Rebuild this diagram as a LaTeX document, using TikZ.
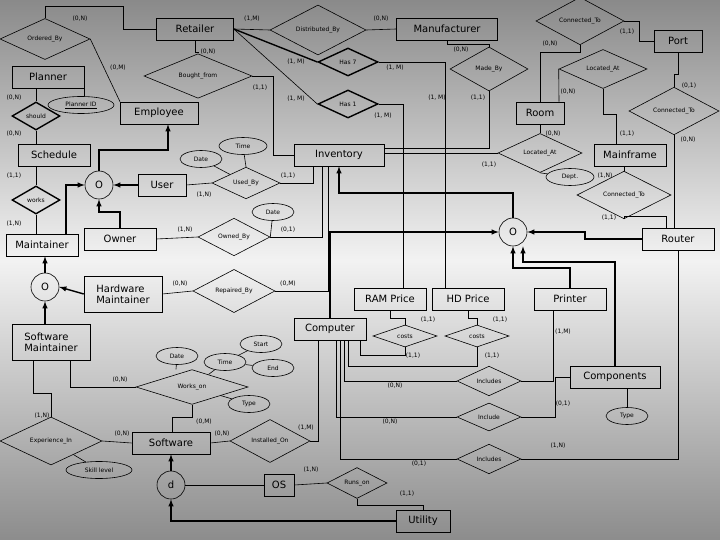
\documentclass[tikz,border=0pt]{standalone}
\usepackage{fontspec}
\setmainfont{DejaVu Sans}
\usetikzlibrary{arrows,shapes.geometric}

\tikzset{
  ent/.style={draw, rectangle, minimum height=22, inner sep=0, font=\fontsize{10}{11}\selectfont},
  rel/.style={draw, diamond, inner sep=0, font=\fontsize{6}{7}\selectfont},
  attr/.style={draw, ellipse, inner sep=0, minimum height=17, font=\fontsize{6}{7}\selectfont},
  gen/.style={draw, circle, minimum size=28, inner sep=0, font=\fontsize{10}{11}\selectfont},
  card/.style={font=\fontsize{6}{7}\selectfont, inner sep=0},
  bold/.style={line width=1.4pt},
  isa/.style={line width=1.4pt, -latex},
}

\begin{document}
\begin{tikzpicture}[x=1pt, y=-1pt, line width=0.6pt]
    \shade[top color=black!46, bottom color=black!5] (0,0) rectangle (720,260);
    \shade[top color=black!5, bottom color=black!45] (0,260) rectangle (720,540);
    \useasboundingbox (0,0) rectangle (720,540);

    % entities
    \node[ent, minimum width=77] (retailer) at (195,29) {Retailer};
    \node[ent, minimum width=101] (manuf) at (447,29) {Manufacturer};
    \node[ent, minimum width=48] (port) at (678,41) {Port};
    \node[ent, minimum width=72] (planner) at (48,77) {Planner};
    \node[ent, minimum width=78] (employee) at (159,113) {Employee};
    \node[ent, minimum width=48] (room) at (540,113) {Room};
    \node[ent, minimum width=72] (schedule) at (54,155) {Schedule};
    \node[ent, minimum width=90] (inventory) at (339,155) {Inventory};
    \node[ent, minimum width=72] (mainframe) at (630,155) {Mainframe};
    \node[ent, minimum width=48] (user) at (162,185) {User};
    \node[ent, minimum width=72] (maintainer) at (42,245) {Maintainer};
    \node[ent, minimum width=72] (owner) at (120,239) {Owner};
    \node[ent, minimum width=72] (router) at (678,239) {Router};
    \node[ent, minimum width=78, minimum height=36, align=left] (hwmaint) at (123,294) {Hardware\\Maintainer};
    \node[ent, minimum width=72] (ramprice) at (390,299) {RAM Price};
    \node[ent, minimum width=72] (hdprice) at (468,299) {HD Price};
    \node[ent, minimum width=72] (printer) at (570,299) {Printer};
    \node[ent, minimum width=72] (computer) at (330,329) {Computer};
    \node[ent, minimum width=78, minimum height=36, align=left] (swmaint) at (51,342) {Software\\Maintainer};
    \node[ent, minimum width=90] (components) at (615,377) {Components};
    \node[ent, minimum width=78] (software) at (171,443) {Software};
    \node[ent, minimum width=30] (os) at (279,485) {OS};
    \node[ent, minimum width=54] (utility) at (423,521) {Utility};

    % specialisation circles
    \node[gen] (oemp) at (99,185) {O};
    \node[gen] (oinv) at (513,232) {O};
    \node[gen] (omaint) at (45,287) {O};
    \node[gen] (dsoft) at (171,485) {d};

    % relationships
    \node[rel, minimum width=90, minimum height=28] (orderedby) at (45,39) {Ordered\_By};
    \node[rel, minimum width=96, minimum height=32] (distrib) at (318,30) {Distributed\_By};
    \node[rel, minimum width=108, minimum height=28] (bought) at (198,76) {Bought\_from};
    \node[rel, bold, minimum width=60, minimum height=28] (hasseven) at (348,62) {Has 7};
    \node[rel, bold, minimum width=60, minimum height=28] (hasone) at (348,104) {Has 1};
    \node[rel, bold, minimum width=48, minimum height=28] (should) at (36,116) {should};
    \node[rel, bold, minimum width=48, minimum height=28] (works) at (36,200) {works};
    \node[rel, minimum width=78, minimum height=44] (madeby) at (489,69) {Made\_By};
    \node[rel, minimum width=88, minimum height=28] (conntop) at (580,21) {Connected\_To};
    \node[rel, minimum width=88, minimum height=30] (loctop) at (603,69) {Located\_At};
    \node[rel, minimum width=90, minimum height=28] (connport) at (674,111) {Connected\_To};
    \node[rel, minimum width=84, minimum height=26] (locmid) at (540,153) {Located\_At};
    \node[rel, minimum width=94, minimum height=28] (connmain) at (624,195) {Connected\_To};
    \node[rel, minimum width=68, minimum height=28] (usedby) at (246,183) {Used\_By};
    \node[rel, minimum width=72, minimum height=28] (ownedby) at (234,237) {Owned\_By};
    \node[rel, minimum width=82, minimum height=28] (repairedby) at (234,291) {Repaired\_By};
    \node[rel, minimum width=64, minimum height=22] (costsram) at (405,336) {costs};
    \node[rel, minimum width=64, minimum height=22] (costshd) at (477,336) {costs};
    \node[rel, minimum width=64, minimum height=28] (inclprinter) at (489,381) {Includes};
    \node[rel, minimum width=64, minimum height=28] (inclcomp) at (489,417) {Include};
    \node[rel, minimum width=64, minimum height=28] (inclrouter) at (489,459) {Includes};
    \node[rel, minimum width=112, minimum height=28] (workson) at (192,387) {Works\_on};
    \node[rel, minimum width=102, minimum height=28] (experience) at (51,441) {Experience\_In};
    \node[rel, minimum width=80, minimum height=28] (installed) at (270,441) {Installed\_On};
    \node[rel, minimum width=60, minimum height=28] (runson) at (357,483) {Runs\_on};

    % attributes
    \node[attr, minimum width=66] (plannerid) at (81,105) {\underline{Planner ID}};
    \node[attr, minimum width=42] (usedate) at (201,159) {Date};
    \node[attr, minimum width=48] (usetime) at (243,146) {Time};
    \node[attr, minimum width=42] (owndate) at (273,212) {Date};
    \node[attr, minimum width=48] (dept) at (570,177) {Dept.};
    \node[attr, minimum width=42] (workdate) at (177,356) {Date};
    \node[attr, minimum width=42] (worktime) at (225,362) {Time};
    \node[attr, minimum width=42] (start) at (261,344) {Start};
    \node[attr, minimum width=42] (end) at (273,368) {End};
    \node[attr, minimum width=42] (worktype) at (249,404) {Type};
    \node[attr, minimum width=66] (skill) at (99,470) {Skill level};
    \node[attr, minimum width=42] (comptype) at (627,416) {Type};

    % retailer side
    \draw (orderedby.north) |- (123,6) |- (retailer.west);
    \draw (orderedby.east) -- (employee.north -| 120,0);
    \draw (retailer.east) -- (distrib.west);
    \draw (distrib.east) -- (manuf.west);
    \draw[bold] (retailer.east) -- (hasseven.west);
    \draw (retailer.east) -- (hasone.west);
    \draw (retailer.south) |- (198,52) -- (bought.north);
    \draw (bought.east) -| (273,155) -- (inventory.west);
    \draw (hasseven.east) -| (hdprice.north -| 445,0);
    \draw (hasone.east) -| (ramprice.north -| 403,0);
    \draw (manuf.south) |- (489,44) -- (madeby.north);
    \draw (madeby.south) |- (inventory.east |- 0,148);
    \draw (conntop.south) |- (540,52) -- (room.north);
    \draw (conntop.east) -| (639,41) -- (port.west);
    \draw (loctop.west) -- (room.north -| 559,0);
    \draw (loctop.south) |- (616,114) -- (mainframe.north -| 616,0);
    \draw (port.south) |- (674,74) -- (connport.north);
    \draw (connport.south) -- (router.north -| 674,0);
    \draw (room.south) -- (locmid.north);
    \draw (locmid.west) -- (inventory.east |- 0,153);
    \draw (locmid.south) -- (dept);
    \draw (mainframe.south -| 624,0) -- (connmain.north);
    \draw (connmain.south) |- (666,216) -- (router.north -| 666,0);

    % employees
    \draw (planner.south -| 36,0) -- (should.north);
    \draw (planner.south -| 84,0) -- (plannerid.north -| 84,0);
    \draw (should.south) -- (schedule.north -| 36,0);
    \draw (schedule.south -| 36,0) -- (works.north);
    \draw (works.south) -- (maintainer.north -| 36,0);
    \draw[isa] (maintainer.north -| 66,0) |- (oemp.west);
    \draw[isa] (oemp.north) |- (168,150) -- (employee.south -| 168,0);
    \draw[isa] (user.west) -- (oemp.east);
    \draw[isa] (owner.north) |- (99,212) -- (oemp.south);
    \draw (user.east) -- (usedby.west);
    \draw (usedby.east) -| (inventory.south -| 313,0);
    \draw (usedby) -- (usedate);
    \draw (usedby.north) -- (usetime);
    \draw (owner.east) -- (ownedby.west);
    \draw (ownedby.east) -| (inventory.south -| 322,0);
    \draw (ownedby.east) -- (owndate);
    \draw[isa] (omaint.north) -- (maintainer.south -| 45,0);
    \draw[isa] (hwmaint.west) -- (omaint.east);
    \draw[isa] (swmaint.north -| 45,0) -- (omaint.south);
    \draw (hwmaint.east) -- (repairedby.west);
    \draw (repairedby.east) -| (inventory.south -| 328,0);

    % inventory specialisation
    \draw[isa] (oinv.north) |- (339,193) -- (inventory.south);
    \draw[isa] (computer.north) |- (oinv.west);
    \draw[isa] (router.west) -| (585,232) -- (oinv.east);
    \draw[isa] (printer.north) |- (513,268) -- (oinv.south);
    \draw[isa] (components.north) |- (523,262) -- (oinv.south -| 523,0);

    % computer
    \draw (ramprice.south) |- (405,318) -- (costsram.north);
    \draw (costsram.south) |- (360,355) -- (computer.south -| 360,0);
    \draw (hdprice.south) |- (477,318) -- (costshd.north);
    \draw (costshd.south) |- (348,366) -- (computer.south -| 348,0);
    \draw (inclprinter.west) -| (computer.south -| 344,0);
    \draw (inclprinter.east) -| (printer.south -| 553,0);
    \draw (inclcomp.west) -| (computer.south -| 336,0);
    \draw (inclcomp.east) -| (555,377) -- (components.west);
    \draw (inclrouter.west) -| (computer.south -| 340,0);
    \draw (inclrouter.east) -| (router.south);
    \draw (components.south -| 627,0) -- (comptype);

    % software
    \draw (swmaint.south -| 70,0) |- (workson.west);
    \draw (swmaint.south -| 33,0) |- (51,393) -- (experience.north);
    \draw (workson.south) |- (172,417) -- (software.north -| 172,0);
    \draw (workson.north -| 176,0) -- (workdate);
    \draw (workson) -- (worktime);
    \draw (worktime) -- (start);
    \draw (worktime) -- (end);
    \draw (workson) -- (worktype);
    \draw (experience.east) -- (software.west);
    \draw (experience) -- (skill);
    \draw (software.east) -- (installed.west);
    \draw (installed.east) -| (computer.south -| 318,0);
    \draw[isa] (dsoft.north) -- (software.south);
    \draw (dsoft.east) -- (os.west);
    \draw (os.east) -- (runson.west);
    \draw (utility.north) |- (357,505) -- (runson.south);
    \draw[isa] (utility.west) -| (dsoft.south);

    % cardinalities
    \node[card] at (80,19) {(0,N)};
    \node[card] at (118,68) {(0,M)};
    \node[card] at (252,19) {(1,M)};
    \node[card] at (381,19) {(0,N)};
    \node[card] at (208,52) {(0,N)};
    \node[card] at (296,62) {(1, M)};
    \node[card] at (296,99) {(1, M)};
    \node[card] at (260,88) {(1,1)};
    \node[card] at (395,68) {(1, M)};
    \node[card] at (383,116) {(1, M)};
    \node[card] at (437,98) {(1, M)};
    \node[card] at (461,50) {(0,N)};
    \node[card] at (478,98) {(1,1)};
    \node[card] at (550,44) {(0,N)};
    \node[card] at (627,32) {(1,1)};
    \node[card] at (568,92) {(0,N)};
    \node[card] at (627,134) {(1,1)};
    \node[card] at (689,86) {(0,1)};
    \node[card] at (688,140) {(0,N)};
    \node[card] at (553,134) {(0,N)};
    \node[card] at (489,165) {(1,1)};
    \node[card] at (605,176) {(1,N)};
    \node[card] at (609,218) {(1,1)};
    \node[card] at (14,98) {(0,N)};
    \node[card] at (14,134) {(0,N)};
    \node[card] at (14,176) {(1,1)};
    \node[card] at (14,224) {(1,N)};
    \node[card] at (204,195) {(1,N)};
    \node[card] at (288,176) {(1,1)};
    \node[card] at (185,230) {(1,N)};
    \node[card] at (288,230) {(0,1)};
    \node[card] at (180,284) {(0,N)};
    \node[card] at (288,284) {(0,M)};
    \node[card] at (428,320) {(1,1)};
    \node[card] at (413,356) {(1,1)};
    \node[card] at (500,320) {(1,1)};
    \node[card] at (492,356) {(1,1)};
    \node[card] at (395,386) {(0,N)};
    \node[card] at (563,332) {(1,M)};
    \node[card] at (390,422) {(0,N)};
    \node[card] at (563,404) {(0,1)};
    \node[card] at (419,464) {(0,1)};
    \node[card] at (558,446) {(1,N)};
    \node[card] at (306,428) {(1,M)};
    \node[card] at (120,380) {(0,N)};
    \node[card] at (42,416) {(1,N)};
    \node[card] at (204,422) {(0,M)};
    \node[card] at (122,434) {(0,N)};
    \node[card] at (222,434) {(0,N)};
    \node[card] at (311,470) {(1,N)};
    \node[card] at (407,494) {(1,1)};
\end{tikzpicture}
\end{document}
